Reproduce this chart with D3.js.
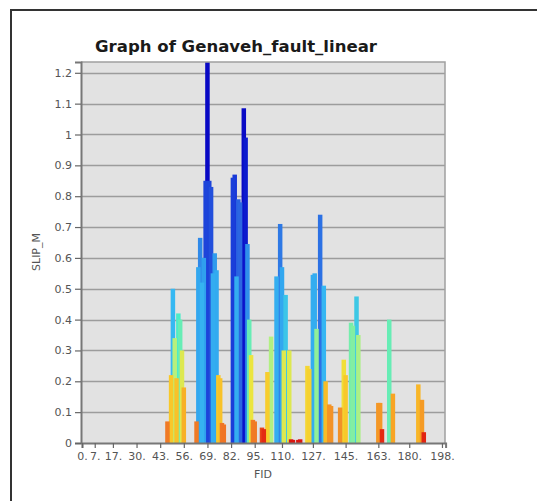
<!DOCTYPE html>
<html><head><meta charset="utf-8">
<script src="https://cdn.jsdelivr.net/npm/d3@7"></script>
<style>body{margin:0;background:#fff}svg{display:block}</style>
</head><body>
<svg id="c" width="537" height="501"></svg>
<script>
// FIDs with non-zero slip (all other FIDs are 0)
const fids = [47,49,50,51,52,53,54,55,56,
  63,64,65,66,67,68,69,70,71,72,73,74,75,76,77,78,
  83,84,85,86,87,89,90,91,92,93,94,95,99,100,
  102,104,107,109,110,111,112,114,115,116,119,120,
  124,125,127,128,129,131,133,134,136,137,
  142,144,145,148,149,151,152,
  163,164,165,169,171,
  185,187,188];
const slip = [0.07,0.22,0.50,0.34,0.21,0.42,0.40,0.30,0.18,
  0.07,0.57,0.665,0.52,0.60,0.85,1.25,0.85,0.83,0.55,0.615,0.56,0.22,0.21,0.065,0.06,
  0.86,0.87,0.54,0.79,0.78,1.085,0.99,0.645,0.40,0.285,0.075,0.07,0.05,0.045,
  0.23,0.345,0.54,0.71,0.57,0.30,0.48,0.30,0.012,0.01,0.01,0.012,
  0.25,0.24,0.545,0.55,0.37,0.74,0.51,0.20,0.125,0.12,
  0.115,0.27,0.22,0.39,0.38,0.475,0.35,
  0.13,0.13,0.045,0.40,0.16,
  0.19,0.14,0.035];
const xTickValues = [0,7,17,30,43,56,69,82,95,110,127,145,163,180,198];
const yTickValues = [0,0.1,0.2,0.3,0.4,0.5,0.6,0.7,0.8,0.9,1,1.1,1.2];
const colorStops = [0,0.045,0.06,0.1,0.16,0.22,0.28,0.34,0.42,0.5,0.6,0.7,0.8,0.9,1.1];
const colorRamp = ["#d81010","#e42a12","#f07424","#f08a28","#f8a424","#f8c82a","#f0e43a","#b8f07c","#4cecc8","#36b8f2","#30a0ee","#2e7ce6","#2a60e0","#1028d4","#0808c4"];

const svg = d3.select("#c");
const L = 81, R = 445, T = 62, B = 443;
const x = d3.scaleLinear().domain([0,200]).range([82,445.6]);
const y = d3.scaleLinear().domain([0,1.235]).range([B,T]);
const color = d3.scaleLinear().domain(colorStops).range(colorRamp).clamp(true);

// outer frame
svg.append("path").attr("d","M11,501 L11,10 L537,10").attr("fill","none").attr("stroke","#333").attr("stroke-width",2);

// plot background
svg.append("rect").attr("x",L).attr("y",T).attr("width",R-L).attr("height",B-T).attr("fill","#e2e2e2");

// gridlines
svg.append("g").selectAll("line").data(yTickValues.filter(d=>d>0)).join("line")
  .attr("x1",L).attr("x2",R).attr("y1",d=>Math.round(y(d))+0.5).attr("y2",d=>Math.round(y(d))+0.5)
  .attr("stroke","#9c9c9c").attr("stroke-width",1.4);

// bars
const data = fids.map((f,i)=>({f, v: slip[i]})).sort((a,b)=>b.v-a.v);
svg.append("clipPath").attr("id","pc").append("rect").attr("x",L).attr("y",T).attr("width",R-L).attr("height",B-T);
const bw = 4.5;
svg.append("g").attr("clip-path","url(#pc)").selectAll("rect").data(data).join("rect")
  .attr("x",d=>x(d.f)-bw/2).attr("width",bw)
  .attr("y",d=>y(d.v)).attr("height",d=>B-y(d.v))
  .attr("fill",d=>color(d.v));

// plot border (top/right)
svg.append("path").attr("d",`M${L},${T} L${R},${T} L${R},${B}`).attr("fill","none").attr("stroke","#a0a0a0").attr("stroke-width",1.5);

// axes
const fmtY = d => d3.format("~g")(d);
const yAxis = d3.axisLeft(y).tickValues(yTickValues).tickFormat(fmtY).tickSize(6).tickPadding(3);
const gy = svg.append("g").attr("transform",`translate(${L},0)`).call(yAxis);
const xAxis = d3.axisBottom(x).tickValues(xTickValues).tickFormat(d=>d+".").tickSize(5).tickPadding(4);
const gx = svg.append("g").attr("transform",`translate(0,${B})`).call(xAxis);
[gx,gy].forEach(g=>{
  g.select(".domain").attr("stroke","#777").attr("stroke-width",2);
  g.selectAll(".tick line").attr("stroke","#666").attr("stroke-width",1.2);
  g.selectAll("text").attr("fill","#555").style("font-family","DejaVu Sans, sans-serif").style("font-size","11px");
});

// titles
svg.append("text").attr("x",236).attr("y",52).attr("text-anchor","middle")
  .attr("textLength",282).attr("lengthAdjust","spacingAndGlyphs")
  .style("font-family","DejaVu Sans, sans-serif").style("font-weight","bold").style("font-size","15px").attr("fill","#1a1a1a")
  .text("Graph of Genaveh_fault_linear");
svg.append("text").attr("transform","translate(40,252) rotate(-90)").attr("text-anchor","middle")
  .style("font-family","DejaVu Sans, sans-serif").style("font-size","11px").attr("fill","#555").text("SLIP_M");
svg.append("text").attr("x",263).attr("y",478).attr("text-anchor","middle")
  .style("font-family","DejaVu Sans, sans-serif").style("font-size","11px").attr("fill","#555").text("FID");
</script>
</body></html>
